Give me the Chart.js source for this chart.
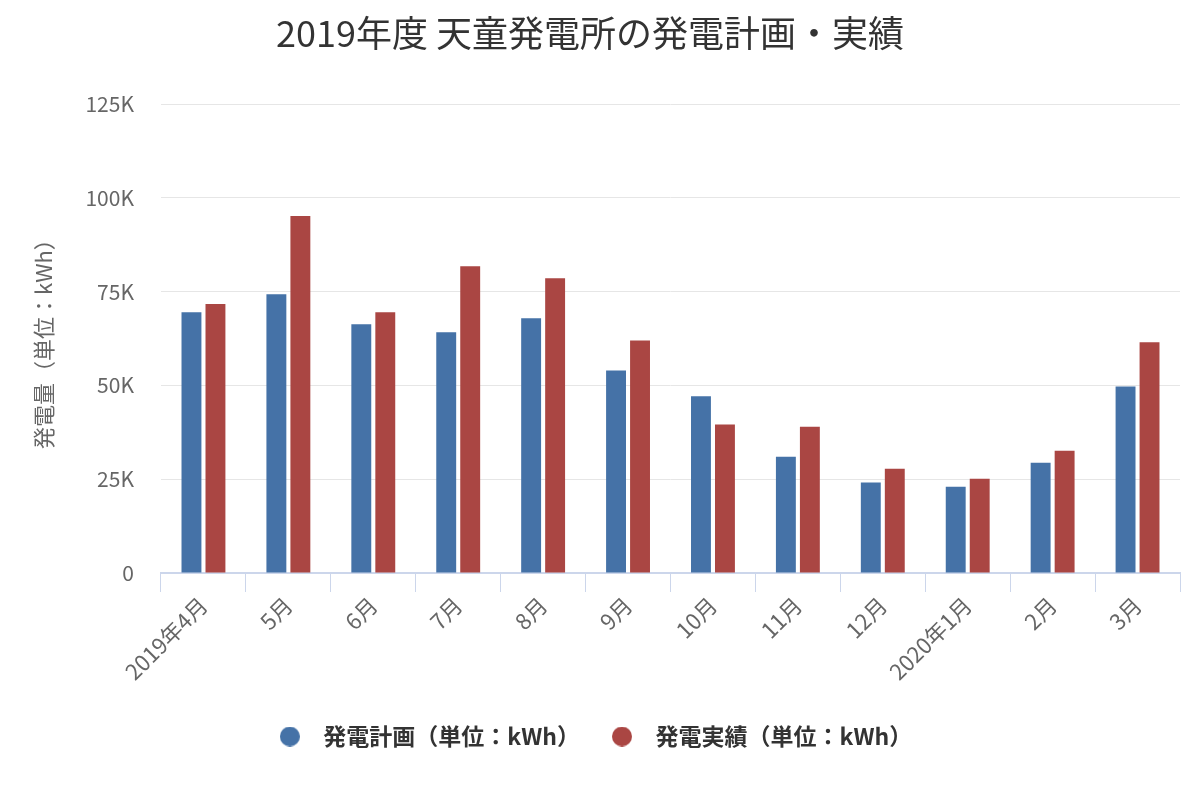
<!DOCTYPE html>
<html>
<head>
<meta charset="utf-8">
<script src="https://cdn.jsdelivr.net/npm/chart.js@4"></script>
<style>
html,body{margin:0;padding:0;background:#fff;}
#wrap{width:1200px;height:800px;}
</style>
</head>
<body>
<div id="wrap"><canvas id="c" width="1200" height="800"></canvas></div>
<script>
const titleText = '2019年度 天童発電所の発電計画・実績';
const yAxisTitle = '発電量（単位：kWh）';
const categories = ['2019年4月','5月','6月','7月','8月','9月','10月','11月','12月','2020年1月','2月','3月'];
const planLabel = '発電計画（単位：kWh）';
const actualLabel = '発電実績（単位：kWh）';
const planValues = [69500, 74300, 66300, 64200, 67900, 54000, 47100, 31000, 24100, 23000, 29400, 49700];
const actualValues = [71700, 95200, 69500, 81800, 78600, 62000, 39600, 39000, 27800, 25100, 32600, 61500];
const yTicks = [0, 25000, 50000, 75000, 100000, 125000];

const FONT = '"Noto Sans CJK JP", "Noto Sans", sans-serif';
const BLUE = '#4572A7';
const RED = '#AA4643';

function circleCanvas(color, d) {
  const c = document.createElement('canvas');
  c.width = d; c.height = d;
  const g = c.getContext('2d');
  g.fillStyle = color;
  g.beginPath();
  g.arc(d/2, d/2, d/2, 0, Math.PI*2);
  g.fill();
  return c;
}

new Chart(document.getElementById('c'), {
  type: 'bar',
  data: {
    labels: categories,
    datasets: [
      { label: planLabel, data: planValues, backgroundColor: BLUE, borderWidth: 0,
        categoryPercentage: 0.565, barPercentage: 0.83 },
      { label: actualLabel, data: actualValues, backgroundColor: RED, borderWidth: 0,
        categoryPercentage: 0.565, barPercentage: 0.83 }
    ]
  },
  options: {
    responsive: false,
    animation: false,
    layout: { padding: { left: 0, right: 20, top: 0, bottom: 42 } },
    plugins: {
      title: {
        display: true, text: titleText, color: '#333',
        font: { family: FONT, size: 36, weight: 'normal' },
        padding: { top: 12, bottom: 49 }
      },
      legend: {
        position: 'bottom',
        labels: {
          color: '#333',
          font: { family: FONT, size: 23, weight: 'bold' },
          usePointStyle: true,
          boxHeight: 20,
          pointStyleWidth: 44,
          padding: 20,
          generateLabels: (chart) => {
            const items = Chart.defaults.plugins.legend.labels.generateLabels(chart);
            items.forEach((it, i) => {
              it.pointStyle = circleCanvas(i === 0 ? BLUE : RED, 20);
            });
            return items;
          }
        }
      },
      tooltip: { enabled: false }
    },
    scales: {
      x: {
        offset: true,
        grid: { display: true, drawOnChartArea: false, drawTicks: true, tickLength: 19, color: '#ccd6eb', offset: true },
        border: { display: true, color: '#ccd6eb', width: 2 },
        ticks: { color: '#666', font: { family: FONT, size: 22 }, minRotation: 45, maxRotation: 45, padding: 0, autoSkip: false },
        afterFit: (s) => { s.height = 132; }
      },
      y: {
        min: 0, max: 125000,
        afterBuildTicks: (s) => { s.ticks = yTicks.map(v => ({ value: v })); },
        grid: { color: '#e6e6e6', lineWidth: 1, drawTicks: false },
        border: { display: false },
        ticks: {
          color: '#666', font: { family: FONT, size: 21 }, padding: 27,
          callback: (v) => v === 0 ? '0' : (v / 1000) + 'K'
        },
        title: {
          display: true, text: yAxisTitle, color: '#666',
          font: { family: FONT, size: 22 }, padding: { top: 30, bottom: 0 }
        },
        afterFit: (s) => { s.width = 161; }
      }
    }
  }
});
</script>
</body>
</html>
